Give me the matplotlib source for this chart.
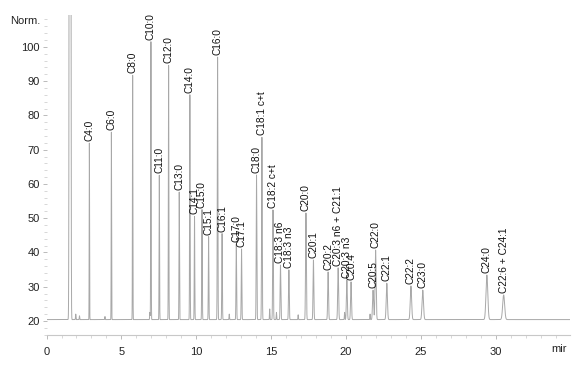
import numpy as np
import matplotlib
matplotlib.use("Agg")
import matplotlib.pyplot as plt
from matplotlib.ticker import MultipleLocator

# ---- data ----
peak_names = ["C4:0", "C6:0", "C8:0", "C10:0", "C11:0", "C12:0", "C13:0", "C14:0",
              "C14:1", "C15:0", "C15:1", "C16:0", "C16:1", "C17:0", "C17:1", "C18:0",
              "C18:1 c+t", "C18:2 c+t", "C18:3 n6", "C18:3 n3", "C20:0", "C20:1", "C20:2",
              "C20:3 n6 + C21:1", "C20:3 n3", "C20:4", "C20:5", "C22:0", "C22:1", "C22:2",
              "C23:0", "C24:0", "C22:6 + C24:1"]
peak_times = [2.86, 4.33, 5.75, 6.97, 7.53, 8.15, 8.86, 9.57,
              9.88, 10.38, 10.82, 11.42, 11.72, 12.67, 13.02, 14.02,
              14.38, 15.12, 15.62, 16.18, 17.32, 17.82, 18.80,
              19.47, 20.05, 20.33, 21.80, 21.97, 22.72, 24.33,
              25.12, 29.40, 30.52]
peak_heights = [71.9, 75.1, 91.7, 101.5, 62.5, 94.6, 57.6, 86.0,
                50.5, 52.5, 44.6, 97.0, 45.5, 42.5, 41.0, 62.6,
                73.6, 52.4, 36.3, 34.9, 51.5, 37.8, 34.3,
                35.5, 32.0, 31.4, 29.0, 40.7, 31.0, 30.2,
                29.0, 33.4, 27.6]
peak_widths = [0.012, 0.013, 0.014, 0.015, 0.015, 0.016, 0.016, 0.017,
               0.017, 0.018, 0.018, 0.019, 0.019, 0.02, 0.02, 0.021,
               0.021, 0.022, 0.023, 0.024, 0.026, 0.026, 0.028,
               0.03, 0.03, 0.03, 0.035, 0.035, 0.04, 0.045,
               0.048, 0.06, 0.065]

minor_times = [1.95, 2.2, 3.9, 6.9, 12.2, 14.9, 15.35, 16.8, 19.9, 21.6]
minor_heights = [22.0, 21.5, 21.3, 22.5, 22.0, 23.5, 22.5, 21.8, 22.5, 22.0]

solvent_time = 1.57
solvent_height = 1500.0
baseline = 20.4

x_ticks = [0, 5, 10, 15, 20, 25, 30]
y_ticks = [20, 30, 40, 50, 60, 70, 80, 90, 100]

# ---- signal ----
t = np.arange(0.0, 34.95, 0.002)
sig = np.full_like(t, baseline)
sig += (solvent_height - baseline) * np.exp(-0.5 * ((t - solvent_time) / 0.03) ** 2)
for tm, h, w in zip(peak_times, peak_heights, peak_widths):
    sig += (h - baseline) * np.exp(-0.5 * ((t - tm) / w) ** 2)
for tm, h in zip(minor_times, minor_heights):
    sig += (h - baseline) * np.exp(-0.5 * ((t - tm) / 0.015) ** 2)

fig = plt.figure(figsize=(5.86, 3.66), dpi=100)
ax = fig.add_axes([0.0794, 0.0847, 0.8933, 0.8743])
ax.plot(t, sig, color="#a8a8a8", lw=0.7, clip_on=True)

ax.set_xlim(0, 34.95)
ax.set_ylim(15.9, 109.3)

for name, tm, h in zip(peak_names, peak_times, peak_heights):
    ax.annotate(name, xy=(tm, h), xytext=(0, 1.5), textcoords="offset points",
                rotation=90, ha="center", va="bottom", fontsize=7.3,
                family=["Liberation Sans", "DejaVu Sans"], color="#111111")

for s in ["top", "right", "left"]:
    ax.spines[s].set_visible(False)
ax.spines["bottom"].set_color("#c8c8c8")
ax.spines["bottom"].set_linewidth(0.8)

ax.set_xticks(x_ticks)
ax.set_yticks(y_ticks)
ax.xaxis.set_minor_locator(MultipleLocator(1))
ax.yaxis.set_minor_locator(MultipleLocator(2))
ax.tick_params(axis="both", which="major", colors="#b0b0b0", labelcolor="#222222",
               labelsize=8, length=3, width=0.6)
ax.tick_params(axis="both", which="minor", colors="#c8c8c8", length=2, width=0.5)
ax.tick_params(axis="x", pad=6)
ax.tick_params(axis="y", pad=2)
for lab in ax.get_xticklabels() + ax.get_yticklabels():
    lab.set_family(["Liberation Sans Narrow", "Liberation Sans", "DejaVu Sans"])

ax.text(-0.4, 107.6, "Norm.", ha="right", va="center", fontsize=8,
        family=["Liberation Sans Narrow", "Liberation Sans", "DejaVu Sans"], color="#222222",
        clip_on=False)
ax.text(34.2, 11.7, "mir", ha="center", va="center", fontsize=8,
        family=["Liberation Sans Narrow", "Liberation Sans", "DejaVu Sans"], color="#222222",
        clip_on=False)

fig.savefig("out.png", dpi=100, facecolor="white")
